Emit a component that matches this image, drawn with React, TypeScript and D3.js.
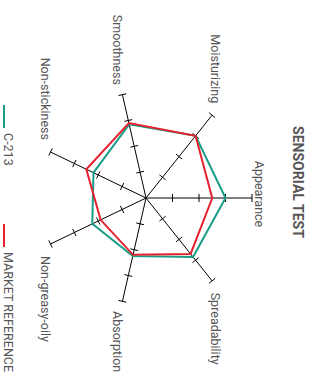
import React from 'react';
import * as d3 from 'd3';

// axes, in drawing order (counter-clockwise once rotated)
const axes = [
  'Appearance',
  'Moisturizing',
  'Smoothness',
  'Non-stickiness',
  'Non-greasy-oily',
  'Absorption',
  'Spreadability',
];
const c213 = [3.0, 3.0, 2.85, 2.2, 2.25, 2.25, 2.85];
const marketRef = [2.5, 3.0, 2.9, 2.5, 1.9, 2.2, 2.7];
const tickValues = [1, 2, 3, 4];
const seriesNames = ['C-213', 'MARKET REFERENCE'];
const seriesColors = ['#1a9d86', '#e5202e'];

const W = 311;
const H = 372;
const font = 'Roboto, sans-serif';

const App = () => {
  // chart is laid out unrotated (H wide, W tall) then turned 90deg
  const cx = 198;
  const cy = 165;
  const r = d3.scaleLinear().domain([0, 4]).range([0, 106]);
  const step = (2 * Math.PI) / axes.length;
  const dir = (i: number) => [-Math.sin(i * step), -Math.cos(i * step)];
  const pt = (i: number, v: number) => {
    const [dx, dy] = dir(i);
    return [cx + dx * r(v), cy + dy * r(v)] as [number, number];
  };

  // where each axis label sits, relative to the end of its axis
  const labelPos = (i: number) => {
    const [dx, dy] = dir(i);
    const end = pt(i, 4);
    const side = dx < -0.1 ? -1 : dx > 0.1 ? 1 : 0;
    if (dy > 0.8) return [end[0] + side * 12, end[1] + 5.5];
    if (dy < -0.5 && side !== 0) return [end[0] + dx * 10 + side * 4, end[1] + dy * 10 + 3];
    if (side === 0) return [end[0] - 4, end[1] - 10 + 3];
    return [end[0] + dx * 10, end[1] + dy * 10 + 3];
  };

  const line = d3.line().curve(d3.curveLinearClosed);

  return (
    <svg width={W} height={H} style={{ position: 'absolute', left: 0, top: 0 }}>
      <g transform={`translate(${W},0) rotate(90)`} fontFamily={font}>
        <text
          x={cx - 16}
          y={18}
          textAnchor='middle'
          fontSize={14}
          fontWeight='bold'
          fill='#555'
        >
          SENSORIAL TEST
        </text>

        {/* axes with ticks */}
        {axes.map((name, i) => {
          const [dx, dy] = dir(i);
          const end = pt(i, 4);
          const lp = labelPos(i);
          const anchor = dx < -0.1 ? 'end' : dx > 0.1 ? 'start' : 'middle';
          return (
            <g key={name}>
              <line x1={cx} y1={cy} x2={end[0]} y2={end[1]} stroke='#000' strokeWidth={1} />
              {tickValues.map((t) => {
                const p = pt(i, t);
                return (
                  <line
                    key={t}
                    x1={p[0] - dy * 4}
                    y1={p[1] + dx * 4}
                    x2={p[0] + dy * 4}
                    y2={p[1] - dx * 4}
                    stroke='#000'
                    strokeWidth={1}
                  />
                );
              })}
              <text
                x={lp[0]}
                y={lp[1]}
                textAnchor={anchor}
                dominantBaseline='central'
                fontSize={12.5}
                fill='#555'
              >
                {name}
              </text>
            </g>
          );
        })}

        {[c213, marketRef].map((vals, s) => (
          <path
            key={s}
            d={line(vals.map((v, i) => pt(i, v))) || ''}
            fill='none'
            stroke={seriesColors[s]}
            strokeWidth={2}
          />
        ))}

        {/* legend */}
        {seriesNames.map((name, s) => {
          const x0 = 105 + s * 119;
          return (
            <g key={name}>
              <line x1={x0} y1={307} x2={x0 + 23} y2={307} stroke={seriesColors[s]} strokeWidth={2} />
              <text x={x0 + 28} y={303} dominantBaseline='central' fontSize={12.5} fill='#555'>
                {name}
              </text>
            </g>
          );
        })}
      </g>
    </svg>
  );
};

export default App;
